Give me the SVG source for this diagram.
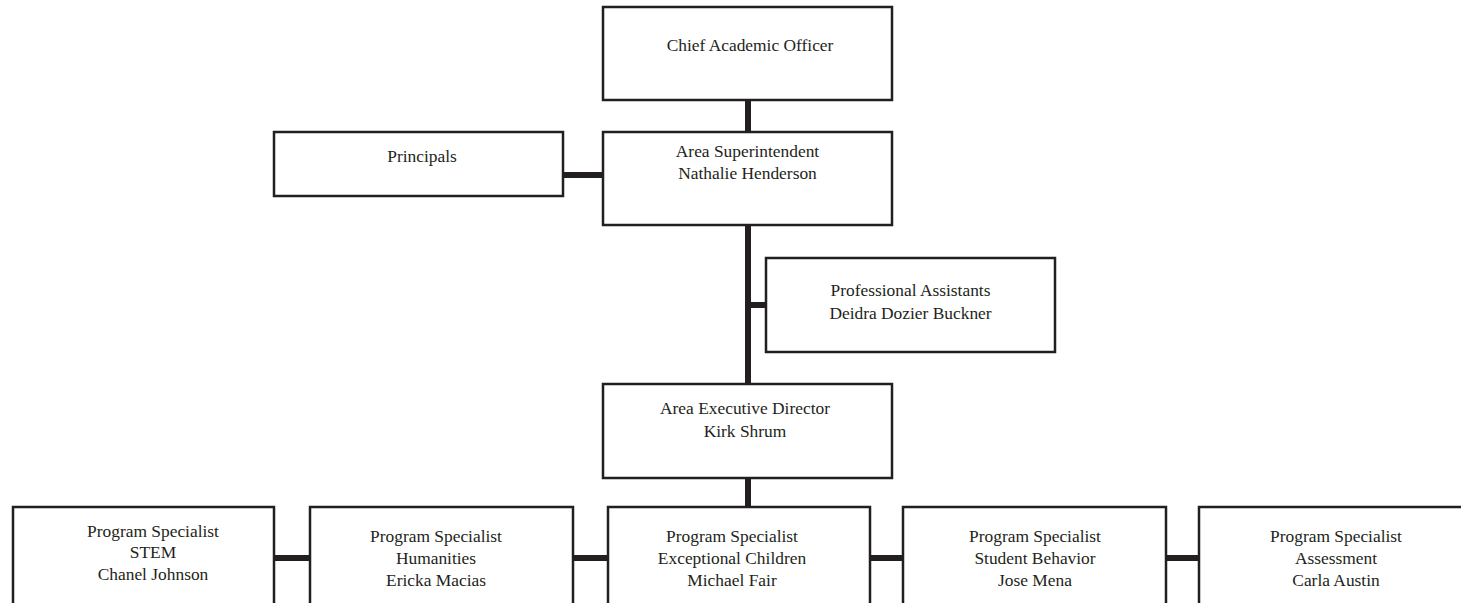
<svg xmlns="http://www.w3.org/2000/svg" width="1461" height="603" viewBox="0 0 1461 603">
<style>
.box{fill:#fff;stroke:#231f20;stroke-width:2.5}
.t{font-family:"Liberation Serif",serif;font-size:17.4px;fill:#231f20;text-anchor:middle}
.c{stroke:#231f20;stroke-width:6;fill:none}
</style>
<rect width="1461" height="603" fill="#fff"/>
<g id="connectors">
<line class="c" x1="748" y1="100" x2="748" y2="132"/>
<line class="c" x1="563" y1="175" x2="603" y2="175"/>
<line class="c" x1="748" y1="225" x2="748" y2="384"/>
<line class="c" x1="748" y1="305" x2="766" y2="305"/>
<line class="c" x1="748" y1="478" x2="748" y2="507"/>
<line class="c" x1="274" y1="558" x2="310" y2="558"/>
<line class="c" x1="573" y1="558" x2="608" y2="558"/>
<line class="c" x1="870" y1="558" x2="903" y2="558"/>
<line class="c" x1="1166" y1="558" x2="1199" y2="558"/>
</g>
<g id="chief">
<rect class="box" x="603" y="7" width="289" height="93"/>
<text class="t" x="750" y="51">Chief Academic Officer</text>
</g>
<g id="principals">
<rect class="box" x="274" y="132" width="289" height="64"/>
<text class="t" x="422" y="162">Principals</text>
</g>
<g id="area-superintendent">
<rect class="box" x="603" y="132" width="289" height="93"/>
<text class="t" x="747.5" y="157">Area Superintendent</text>
<text class="t" x="747.5" y="179">Nathalie Henderson</text>
</g>
<g id="professional-assistants">
<rect class="box" x="766" y="258" width="289" height="94"/>
<text class="t" x="910.5" y="296">Professional Assistants</text>
<text class="t" x="910.5" y="319">Deidra Dozier Buckner</text>
</g>
<g id="area-executive-director">
<rect class="box" x="603" y="384" width="289" height="94"/>
<text class="t" x="745" y="414">Area Executive Director</text>
<text class="t" x="745" y="437">Kirk Shrum</text>
</g>
<g id="ps-stem">
<rect class="box" x="13" y="507" width="261" height="110"/>
<text class="t" x="153" y="537">Program Specialist</text>
<text class="t" x="153" y="558">STEM</text>
<text class="t" x="153" y="580">Chanel Johnson</text>
</g>
<g id="ps-humanities">
<rect class="box" x="310" y="507" width="263" height="110"/>
<text class="t" x="436" y="542">Program Specialist</text>
<text class="t" x="436" y="564">Humanities</text>
<text class="t" x="436" y="586">Ericka Macias</text>
</g>
<g id="ps-exceptional">
<rect class="box" x="608" y="507" width="262" height="110"/>
<text class="t" x="732" y="542">Program Specialist</text>
<text class="t" x="732" y="564">Exceptional Children</text>
<text class="t" x="732" y="586">Michael Fair</text>
</g>
<g id="ps-behavior">
<rect class="box" x="903" y="507" width="263" height="110"/>
<text class="t" x="1035" y="542">Program Specialist</text>
<text class="t" x="1035" y="564">Student Behavior</text>
<text class="t" x="1035" y="586">Jose Mena</text>
</g>
<g id="ps-assessment">
<rect class="box" x="1199" y="507" width="270" height="110"/>
<text class="t" x="1336" y="542">Program Specialist</text>
<text class="t" x="1336" y="564">Assessment</text>
<text class="t" x="1336" y="586">Carla Austin</text>
</g>
</svg>
